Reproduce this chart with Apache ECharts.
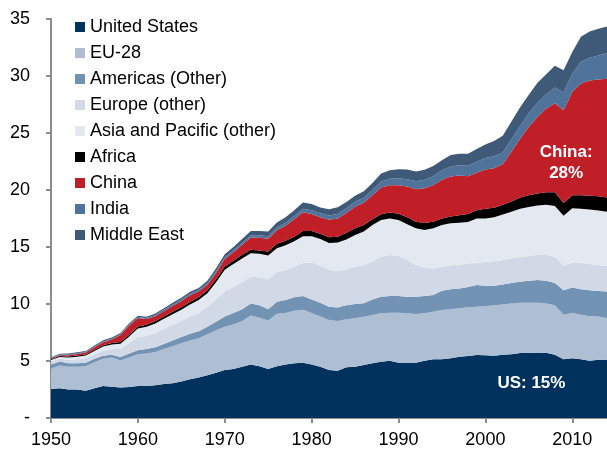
<!DOCTYPE html>
<html>
<head>
<meta charset="utf-8">
<script src="https://cdn.jsdelivr.net/npm/echarts@6/dist/echarts.min.js"></script>
<style>
html,body{margin:0;padding:0;background:#fff;}
#chart{width:607px;height:450px;}
</style>
</head>
<body>
<div id="chart"></div>
<script>
var years = ['1950','1951','1952','1953','1954','1955','1956','1957','1958','1959',
'1960','1961','1962','1963','1964','1965','1966','1967','1968','1969',
'1970','1971','1972','1973','1974','1975','1976','1977','1978','1979',
'1980','1981','1982','1983','1984','1985','1986','1987','1988','1989',
'1990','1991','1992','1993','1994','1995','1996','1997','1998','1999',
'2000','2001','2002','2003','2004','2005','2006','2007','2008','2009',
'2010','2011','2012','2013','2014'];

var unitedStates = [2.55,2.60,2.50,2.50,2.38,2.60,2.80,2.75,2.68,2.72,
2.80,2.80,2.88,2.98,3.05,3.20,3.40,3.55,3.75,3.98,
4.20,4.30,4.50,4.70,4.55,4.30,4.55,4.70,4.80,4.85,
4.70,4.50,4.20,4.15,4.45,4.50,4.65,4.80,4.94,5.03,
4.85,4.85,4.85,5.03,5.15,5.15,5.24,5.38,5.44,5.53,
5.50,5.45,5.55,5.60,5.70,5.72,5.70,5.72,5.55,5.15,
5.25,5.15,5.03,5.10,5.10];

var eu28 = [1.80,2.00,2.00,2.00,2.17,2.30,2.40,2.55,2.37,2.58,
2.80,2.85,2.92,3.07,3.25,3.35,3.40,3.45,3.60,3.72,
3.80,3.90,4.00,4.30,4.25,4.25,4.60,4.50,4.60,4.65,
4.50,4.40,4.40,4.35,4.21,4.24,4.24,4.23,4.24,4.21,
4.39,4.33,4.27,4.15,4.17,4.32,4.29,4.24,4.27,4.23,
4.30,4.45,4.40,4.45,4.40,4.40,4.40,4.33,4.35,3.90,
3.95,3.90,3.90,3.80,3.65];

var americasOther = [0.35,0.35,0.30,0.30,0.30,0.30,0.25,0.25,0.30,0.35,
0.35,0.40,0.40,0.45,0.50,0.55,0.60,0.60,0.65,0.75,
0.90,1.00,1.05,1.05,1.10,1.00,1.05,1.15,1.20,1.20,
1.20,1.20,1.15,1.20,1.24,1.26,1.17,1.37,1.46,1.46,
1.46,1.46,1.52,1.52,1.48,1.70,1.77,1.75,1.79,1.91,
1.80,1.70,1.75,1.80,1.85,1.93,2.00,2.00,1.95,2.15,
2.25,2.25,2.27,2.25,2.35];

var europeOther = [0.25,0.25,0.30,0.35,0.40,0.40,0.45,0.50,0.70,0.90,
1.15,1.15,1.25,1.30,1.35,1.40,1.50,1.60,1.75,1.95,
2.20,2.30,2.35,2.35,2.45,2.65,2.60,2.60,2.70,2.90,
3.25,3.25,3.25,3.20,3.15,3.27,3.34,3.30,3.51,3.60,
3.50,3.22,2.76,2.50,2.30,2.10,2.10,2.03,2.07,1.90,
2.10,2.15,2.15,2.15,2.15,2.15,2.20,2.25,2.30,2.15,
2.20,2.30,2.30,2.25,2.25];

var asiaPacificOther = [0.13,0.15,0.20,0.23,0.23,0.28,0.37,0.40,0.47,0.60,
0.75,0.80,0.85,0.90,0.95,1.00,1.05,1.15,1.20,1.50,
1.90,2.00,2.10,2.05,2.05,2.05,2.10,2.20,2.20,2.35,
2.30,2.35,2.35,2.50,2.60,2.78,2.95,3.23,3.22,3.20,
3.17,3.14,3.24,3.30,3.54,3.66,3.68,3.73,3.63,3.93,
3.80,3.85,4.00,4.10,4.25,4.30,4.35,4.40,4.45,4.40,
4.75,4.75,4.80,4.80,4.75];

var africa = [0.08,0.09,0.09,0.10,0.10,0.11,0.12,0.13,0.14,0.15,
0.17,0.18,0.19,0.20,0.21,0.22,0.23,0.24,0.26,0.28,
0.28,0.30,0.32,0.30,0.30,0.35,0.38,0.40,0.40,0.45,
0.45,0.47,0.50,0.50,0.59,0.59,0.58,0.50,0.50,0.52,
0.55,0.60,0.58,0.60,0.58,0.58,0.60,0.65,0.70,0.72,
0.85,0.85,0.85,0.90,1.00,1.05,1.05,1.10,1.20,1.10,
1.15,1.20,1.20,1.25,1.25];

var china = [0.07,0.07,0.12,0.14,0.16,0.21,0.25,0.30,0.61,0.82,
0.75,0.50,0.43,0.47,0.51,0.53,0.58,0.50,0.48,0.55,
0.67,0.75,0.88,1.09,1.12,1.13,1.19,1.32,1.53,1.65,
1.50,1.45,1.55,1.60,1.75,1.90,1.95,2.10,2.35,2.40,
2.50,2.70,2.85,3.05,3.20,3.40,3.50,3.50,3.30,3.30,
3.45,3.45,3.55,4.35,5.15,6.00,6.70,7.35,7.80,8.15,
9.05,9.80,10.10,10.25,10.40];

var india = [0.05,0.06,0.07,0.07,0.07,0.08,0.08,0.08,0.08,0.10,
0.10,0.10,0.12,0.13,0.13,0.14,0.15,0.15,0.16,0.17,
0.16,0.17,0.18,0.20,0.20,0.22,0.23,0.25,0.28,0.30,
0.32,0.33,0.37,0.40,0.40,0.43,0.45,0.48,0.52,0.56,
0.60,0.65,0.70,0.75,0.78,0.82,0.88,0.90,0.92,0.95,
1.00,1.05,1.05,1.10,1.10,1.20,1.25,1.25,1.40,1.55,
1.60,1.90,2.00,2.10,2.25];

var middleEast = [0.05,0.06,0.07,0.07,0.07,0.08,0.10,0.10,0.10,0.10,
0.10,0.10,0.13,0.13,0.15,0.16,0.17,0.17,0.19,0.23,
0.25,0.28,0.32,0.36,0.38,0.40,0.45,0.50,0.52,0.55,
0.55,0.52,0.55,0.58,0.55,0.53,0.57,0.60,0.70,0.75,
0.80,0.85,0.85,0.88,0.90,0.88,1.00,1.00,1.05,1.12,
1.20,1.35,1.45,1.55,1.65,1.60,1.75,1.75,1.90,1.95,
1.90,2.20,2.30,2.35,2.35];

var seriesNames = ['United States','EU-28','Americas (Other)','Europe (other)','Asia and Pacific (other)','Africa','China','India','Middle East'];
var seriesValues = [unitedStates, eu28, americasOther, europeOther, asiaPacificOther, africa, china, india, middleEast];
var seriesColors = ['#01325e','#aebfd4','#7393b4','#d0d9e5','#e3e8f1','#000000','#c01f28','#50739c','#3f5a79'];

var yTickLabels = ['-','5','10','15','20','25','30','35'];

var labelNotes = [
  {text: 'China:\n28%', value: [2009.3, 22.4]},
  {text: 'US: 15%', value: [2005.3, 3.0]}
];

var font = '"Liberation Sans", Arial, sans-serif';

var series = seriesNames.map(function (name, k) {
  return {
    name: name,
    type: 'line',
    stack: 'total',
    symbol: 'none',
    showSymbol: false,
    smooth: false,
    lineStyle: {width: 0},
    areaStyle: {color: seriesColors[k], opacity: 1},
    itemStyle: {color: seriesColors[k]},
    data: seriesValues[k]
  };
});

series.push({
  name: 'notes',
  type: 'scatter',
  xAxisIndex: 1,
  symbolSize: 0,
  silent: true,
  z: 10,
  itemStyle: {opacity: 1, color: 'transparent'},
  data: labelNotes.map(function (n) {
    return {value: n.value, label: {formatter: n.text}};
  }),
  label: {
    show: true,
    position: 'inside',
    color: '#ffffff',
    opacity: 1,
    fontFamily: font,
    fontWeight: 'bold',
    fontSize: 17,
    lineHeight: 21,
    align: 'center',
    verticalAlign: 'middle'
  }
});

var chart = echarts.init(document.getElementById('chart'), null, {renderer: 'canvas'});
chart.setOption({
  animation: false,
  backgroundColor: '#ffffff',
  grid: {left: 51, top: 19, width: 556, height: 399, containLabel: false},
  legend: {
    data: seriesNames,
    orient: 'vertical',
    left: 75,
    top: 18,
    padding: 0,
    itemWidth: 10,
    itemHeight: 10,
    itemGap: 8,
    icon: 'rect',
    selectedMode: false,
    textStyle: {fontFamily: font, fontSize: 18, color: '#000000'}
  },
  xAxis: [{
    type: 'category',
    data: years,
    boundaryGap: false,
    axisLine: {show: true, lineStyle: {color: '#8c8c8c', width: 2}},
    axisTick: {show: true, length: 5, interval: function (i) { return i % 10 === 0; }, lineStyle: {color: '#8c8c8c', width: 2}},
    splitLine: {show: false},
    axisLabel: {
      interval: function (i) { return i % 10 === 0; },
      margin: 13,
      fontFamily: font,
      fontSize: 18,
      color: '#000000'
    }
  }, {
    type: 'value',
    min: 1950,
    max: 2014,
    show: false
  }],
  yAxis: {
    type: 'value',
    min: 0,
    max: 35,
    interval: 5,
    axisLine: {show: true, lineStyle: {color: '#8c8c8c', width: 2}},
    axisTick: {show: true, length: 5, lineStyle: {color: '#8c8c8c', width: 2}},
    splitLine: {show: false},
    axisLabel: {
      margin: 21,
      fontFamily: font,
      fontSize: 18,
      color: '#000000',
      formatter: function (v) { return yTickLabels[Math.round(v / 5)]; }
    }
  },
  series: series
});
</script>
</body>
</html>
